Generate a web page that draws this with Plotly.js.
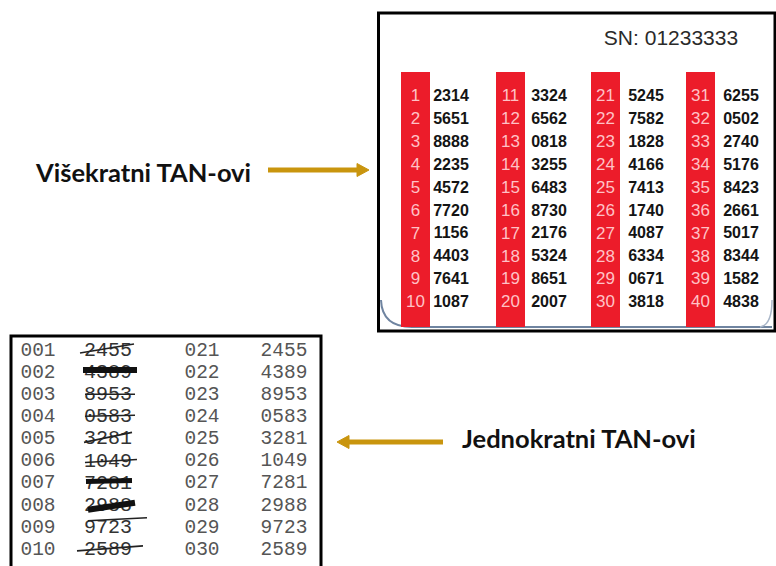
<!DOCTYPE html>
<html><head><meta charset="utf-8">
<script src="https://cdn.plot.ly/plotly-3.0.1.min.js"></script>
<style>html,body{margin:0;padding:0;background:#fff;}#chart{width:776px;height:566px;}</style>
</head><body><div id="chart"></div>
<script>
// ---- data ----
const cardSerial = 'SN: 01233333';
const cardIndex = ['1','2','3','4','5','6','7','8','9','10',
  '11','12','13','14','15','16','17','18','19','20',
  '21','22','23','24','25','26','27','28','29','30',
  '31','32','33','34','35','36','37','38','39','40'];
const cardValues = ['2314','5651','8888','2235','4572','7720','1156','4403','7641','1087',
  '3324','6562','0818','3255','6483','8730','2176','5324','8651','2007',
  '5245','7582','1828','4166','7413','1740','4087','6334','0671','3818',
  '6255','0502','2740','5176','8423','2661','5017','8344','1582','4838'];
const listIndexUsed = ['001','002','003','004','005','006','007','008','009','010'];
const listValuesUsed = ['2455','4389','8953','0583','3281','1049','7281','2988','9723','2589'];
const listIndexNew = ['021','022','023','024','025','026','027','028','029','030'];
const listValuesNew = ['2455','4389','8953','0583','3281','1049','7281','2988','9723','2589'];
const labelMulti = 'Višekratni TAN-ovi';
const labelSingle = 'Jednokratni TAN-ovi';

// ---- geometry & style ----
const W = 776, H = 566;
const stripeLeft = [401, 496, 591, 686], stripeW = 29, stripeTop = 72, stripeBottom = 327;
const valueCenter = [451, 549, 646, 741];
const rowTop = 97, rowStep = 22.9;
const listRowTop = 351, listRowStep = 22.1;
const listCols = {idxUsed: 38, valUsed: 108, idxNew: 202, valNew: 284};
// strike marks: [dy start, dy end, x start, x end, width]
const strikeStyle = [
  [2,-7,80,134,1.6],[-3,-3,83,137,6],[-1,-1,85,135,1.6],[-1,-2,85,135,1.6],[3,-7,84,132,1.6],
  [1,-2,85,137,1.6],[-2,-3,86,132,5],[4,-3,88,135,6],[-7,-10,88,147,1.6],[1,-4,77,143,1.6]
];
const gold = '#c9950e';
const red = '#ec1c2a';

const cx = [], cy = [];
cardValues.forEach((v, i) => { const c = Math.floor(i / 10), r = i % 10; cx.push(c); cy.push(rowTop + r * rowStep); });

const traces = [
  {x: cx.map(c => stripeLeft[c] + stripeW / 2), y: cy, text: cardIndex, mode: 'text', type: 'scatter',
   textposition: 'middle center', textfont: {family: 'Liberation Sans, Arial', size: 17, color: '#ffc2c6'}, hoverinfo: 'skip'},
  {x: cx.map(c => valueCenter[c]), y: cy, text: cardValues, mode: 'text', type: 'scatter',
   textposition: 'middle center', textfont: {family: 'Liberation Sans, Arial', size: 16, color: '#141414', weight: 700}, hoverinfo: 'skip'},
  {x: [671], y: [40], text: [cardSerial], mode: 'text', type: 'scatter', textposition: 'middle center',
   textfont: {family: 'Liberation Sans, Arial', size: 21, color: '#2a2a2a'}, hoverinfo: 'skip'},
];
const ly = listIndexUsed.map((_, i) => listRowTop + i * listRowStep);
traces.push({x: ly.map(() => listCols.idxUsed), y: ly, text: listIndexUsed, mode: 'text', type: 'scatter',
  textposition: 'middle center', textfont: {family: 'Liberation Mono, monospace', size: 19.5, color: '#555'}, hoverinfo: 'skip'});
traces.push({x: ly.map(() => listCols.valUsed), y: ly, text: listValuesUsed, mode: 'text', type: 'scatter',
  textposition: 'middle center', textfont: {family: 'Liberation Mono, monospace', size: 20, color: '#333'}, hoverinfo: 'skip'});
traces.push({x: ly.map(() => listCols.idxNew), y: ly, text: listIndexNew, mode: 'text', type: 'scatter',
  textposition: 'middle center', textfont: {family: 'Liberation Mono, monospace', size: 19.5, color: '#555'}, hoverinfo: 'skip'});
traces.push({x: ly.map(() => listCols.valNew), y: ly, text: listValuesNew, mode: 'text', type: 'scatter',
  textposition: 'middle center', textfont: {family: 'Liberation Mono, monospace', size: 19.5, color: '#555'}, hoverinfo: 'skip'});

const shapes = [];
// card frame
shapes.push({type: 'rect', xref: 'x', yref: 'y', x0: 378.5, x1: 775, y0: 13, y1: 331, line: {color: '#000', width: 3}, fillcolor: '#fff', layer: 'below'});
// card edge shading
shapes.push({type: 'path', xref: 'x', yref: 'y', path: 'M 381 300 Q 382 327 412 327 L 772 327', line: {color: '#6f84a0', width: 2}, layer: 'below'});
shapes.push({type: 'path', xref: 'x', yref: 'y', path: 'M 772 300 Q 772 325 760 327', line: {color: '#a9b6c8', width: 1.5}, layer: 'below'});
// red stripes
stripeLeft.forEach(x0 => shapes.push({type: 'rect', xref: 'x', yref: 'y', x0: x0, x1: x0 + stripeW, y0: stripeTop, y1: stripeBottom,
  line: {width: 0}, fillcolor: red, layer: 'below'}));
// lower list frame
shapes.push({type: 'rect', xref: 'x', yref: 'y', x0: 11, x1: 321, y0: 336, y1: 575, line: {color: '#000', width: 3}, fillcolor: '#fff', layer: 'below'});
// strike marks
strikeStyle.forEach((s, i) => {
  const y = ly[i];
  shapes.push({type: 'line', xref: 'x', yref: 'y', x0: s[2], x1: s[3], y0: y + s[0], y1: y + s[1],
    line: {color: s[4] > 3 ? '#111' : '#222', width: s[4]}});
});
// arrows
shapes.push({type: 'line', xref: 'x', yref: 'y', x0: 268, x1: 360, y0: 170, y1: 170, line: {color: gold, width: 5}});
shapes.push({type: 'path', xref: 'x', yref: 'y', path: 'M 357 163.5 L 369 170 L 357 176.5 Z', line: {color: gold, width: 1}, fillcolor: gold});
shapes.push({type: 'line', xref: 'x', yref: 'y', x0: 346, x1: 443, y0: 442, y1: 442, line: {color: gold, width: 5}});
shapes.push({type: 'path', xref: 'x', yref: 'y', path: 'M 349 435.5 L 337 442 L 349 448.5 Z', line: {color: gold, width: 1}, fillcolor: gold});

const annotations = [
  {xref: 'x', yref: 'y', x: 33, y: 172, text: '<b>' + labelMulti + '</b>', showarrow: false, xanchor: 'left', yanchor: 'middle',
   font: {family: 'Lato, Open Sans, sans-serif', size: 25.5, color: '#111'}},
  {xref: 'x', yref: 'y', x: 460, y: 438, text: '<b>' + labelSingle + '</b>', showarrow: false, xanchor: 'left', yanchor: 'middle',
   font: {family: 'Lato, Open Sans, sans-serif', size: 25.5, color: '#111'}},
];

const layout = {
  width: W, height: H, margin: {l: 0, r: 0, t: 0, b: 0},
  paper_bgcolor: '#fff', plot_bgcolor: '#fff', showlegend: false,
  xaxis: {range: [0, W], visible: false, fixedrange: true},
  yaxis: {range: [H, 0], visible: false, fixedrange: true},
  shapes: shapes, annotations: annotations
};
Plotly.newPlot('chart', traces, layout, {staticPlot: true, displayModeBar: false});
</script></body></html>
